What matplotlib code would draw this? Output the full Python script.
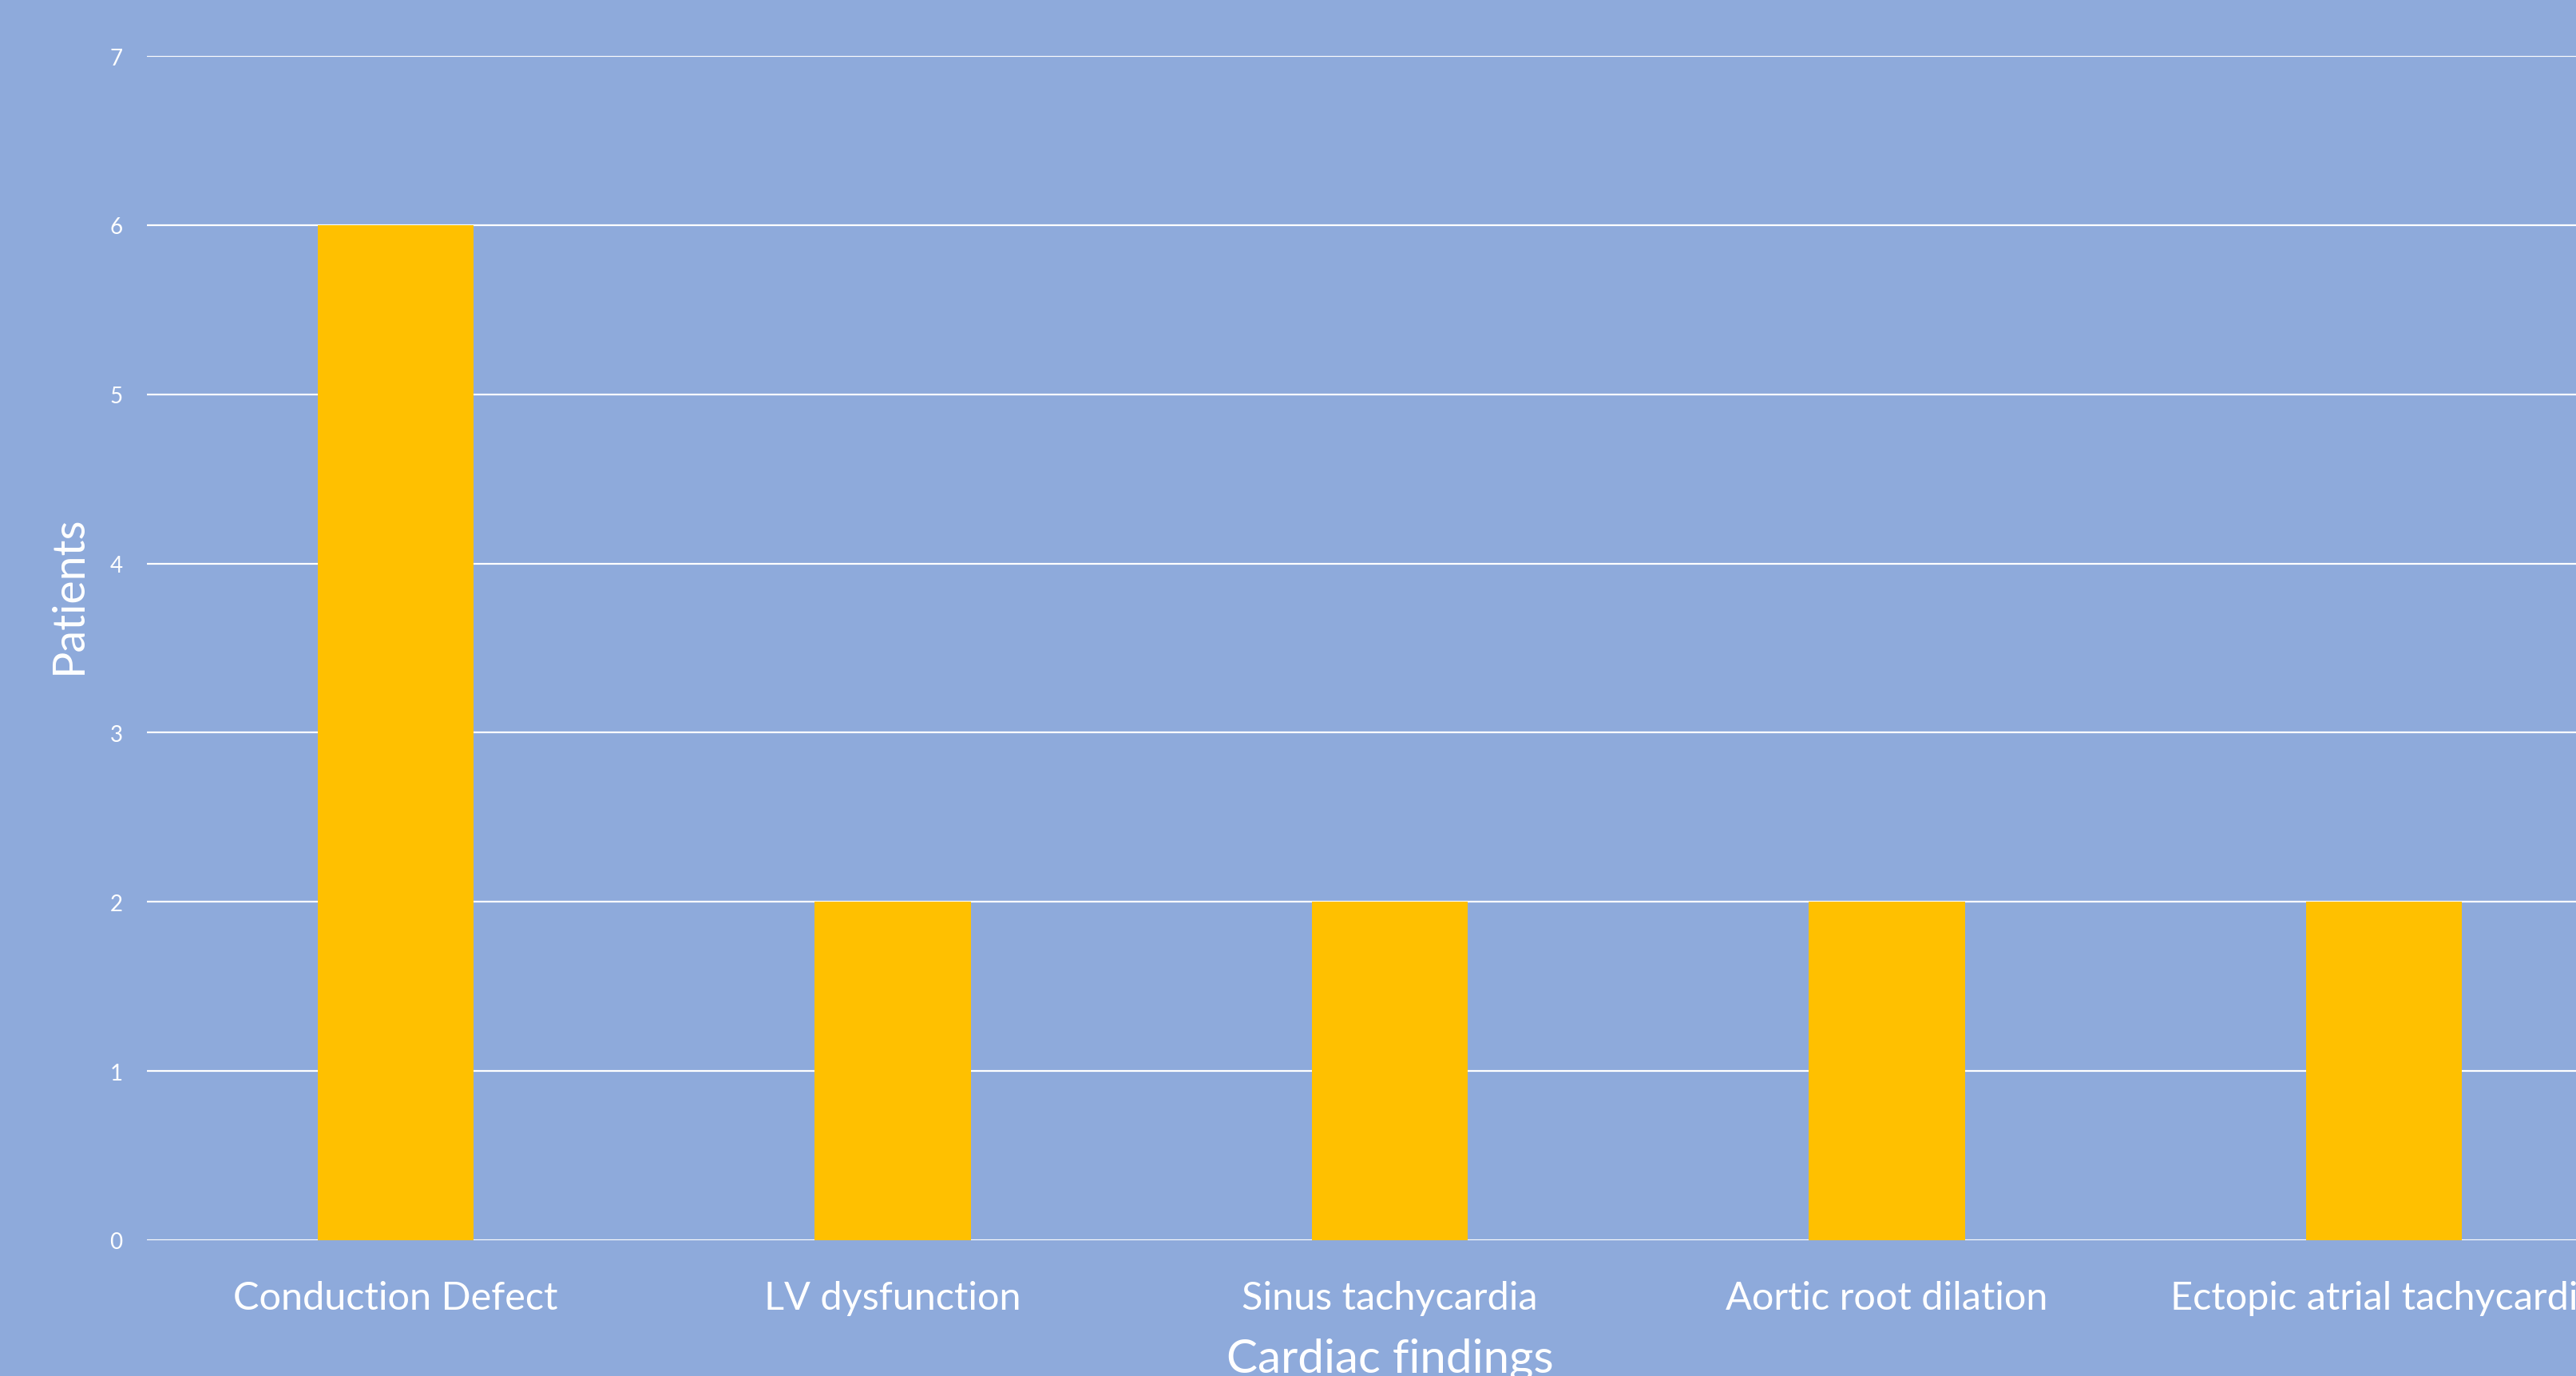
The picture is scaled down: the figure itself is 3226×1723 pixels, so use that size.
import matplotlib
matplotlib.use("Agg")
import matplotlib.pyplot as plt

categories = ["Conduction Defect", "LV dysfunction", "Sinus tachycardia",
              "Aortic root dilation", "Ectopic atrial tachycardia"]
patients = [6, 2, 2, 2, 2]
yticks = [0, 1, 2, 3, 4, 5, 6, 7]

BG = "#8EAADB"
BAR = "#FFC000"

plt.rcParams['font.family'] = ['Lato', 'DejaVu Sans']

W, H = 3226, 1724
DPI = 200
fig = plt.figure(figsize=(W / DPI, H / DPI), dpi=DPI, facecolor=BG)
left = 184 / W
right = 3297 / W
bottom = (H - 1554) / H
top = (H - 71) / H
ax = fig.add_axes([left, bottom, right - left, top - bottom], facecolor=BG)

x = list(range(len(categories)))
ax.bar(x, patients, width=0.314, color=BAR, zorder=3)
ax.set_xlim(-0.5, len(categories) - 0.5)
ax.set_ylim(0, 7)
ax.set_yticks(yticks)
ax.set_yticklabels([str(v) for v in yticks])
ax.set_xticks(x)
ax.set_xticklabels(categories)
ax.grid(axis='y', color='white', linewidth=0.8, zorder=1)
ax.set_axisbelow(True)
for s in ax.spines.values():
    s.set_visible(False)
ax.tick_params(axis='both', length=0, colors='white')
ax.tick_params(axis='y', labelsize=10, pad=11)
ax.tick_params(axis='x', labelsize=17.5, pad=18)
ax.set_xlabel("Cardiac findings", fontsize=21, color='white', labelpad=10)
fig.text(86 / W, 1 - 745 / H, "Patients", rotation=90, color='white',
         fontsize=20, ha='center', va='center')

fig.savefig("out.png", dpi=DPI, facecolor=BG)
